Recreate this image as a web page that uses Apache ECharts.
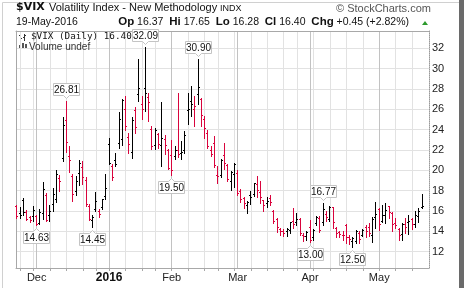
<!DOCTYPE html>
<html><head><meta charset="utf-8">
<script src="https://cdn.jsdelivr.net/npm/echarts@6/dist/echarts.min.js"></script>
<style>html,body{margin:0;padding:0;background:#fff}#c{width:464px;height:288px}</style>
</head><body><div id="c"></div>
<script>
const dates = [
'2015-11-20','2015-11-23','2015-11-24','2015-11-25','2015-11-27','2015-11-30',
'2015-12-01','2015-12-02','2015-12-03','2015-12-04','2015-12-07','2015-12-08','2015-12-09','2015-12-10','2015-12-11','2015-12-14','2015-12-15','2015-12-16','2015-12-17','2015-12-18','2015-12-21','2015-12-22','2015-12-23','2015-12-24','2015-12-28','2015-12-29','2015-12-30','2015-12-31',
'2016-01-04','2016-01-05','2016-01-06','2016-01-07','2016-01-08','2016-01-11','2016-01-12','2016-01-13','2016-01-14','2016-01-15','2016-01-19','2016-01-20','2016-01-21','2016-01-22','2016-01-25','2016-01-26','2016-01-27','2016-01-28','2016-01-29',
'2016-02-01','2016-02-02','2016-02-03','2016-02-04','2016-02-05','2016-02-08','2016-02-09','2016-02-10','2016-02-11','2016-02-12','2016-02-16','2016-02-17','2016-02-18','2016-02-19','2016-02-22','2016-02-23','2016-02-24','2016-02-25','2016-02-26','2016-02-29',
'2016-03-01','2016-03-02','2016-03-03','2016-03-04','2016-03-07','2016-03-08','2016-03-09','2016-03-10','2016-03-11','2016-03-14','2016-03-15','2016-03-16','2016-03-17','2016-03-18','2016-03-21','2016-03-22','2016-03-23','2016-03-24','2016-03-28','2016-03-29','2016-03-30','2016-03-31',
'2016-04-01','2016-04-04','2016-04-05','2016-04-06','2016-04-07','2016-04-08','2016-04-11','2016-04-12','2016-04-13','2016-04-14','2016-04-15','2016-04-18','2016-04-19','2016-04-20','2016-04-21','2016-04-22','2016-04-25','2016-04-26','2016-04-27','2016-04-28','2016-04-29',
'2016-05-02','2016-05-03','2016-05-04','2016-05-05','2016-05-06','2016-05-09','2016-05-10','2016-05-11','2016-05-12','2016-05-13','2016-05-16','2016-05-17','2016-05-18','2016-05-19'];

const opens = [16.4,15.8,17.0,15.9,15.4,15.5,
15.5,14.8,15.8,17.5,15.6,16.6,17.1,19.2,21.2,24.9,21.4,19.4,17.9,19.7,20.3,19.0,16.4,15.1,16.2,16.0,16.3,17.4,
22.5,20.4,21.0,22.6,23.0,26.0,23.2,21.8,25.9,27.5,26.5,28.0,27.2,24.0,22.4,23.5,22.4,23.0,22.0,
21.5,21.4,22.0,21.7,22.0,25.9,26.8,26.0,27.5,27.0,25.0,23.6,22.0,22.6,19.5,19.5,21.5,20.5,18.9,19.6,
19.7,17.9,17.2,16.5,17.5,17.6,18.6,17.8,17.0,16.7,17.2,16.0,15.2,14.2,14.0,14.0,14.1,15.0,14.9,15.2,13.6,13.5,
14.4,13.4,14.8,15.3,14.9,15.7,15.2,16.3,14.3,13.9,13.6,14.6,13.4,13.0,13.0,13.8,13.6,14.4,14.4,13.6,15.4,
16.2,15.0,15.6,16.4,15.8,14.8,14.2,13.7,14.7,14.9,15.2,14.7,15.5,16.37];

const highs = [16.6,16.4,17.3,16.1,15.5,16.5,
15.6,16.2,18.9,17.8,16.6,18.3,20.0,19.5,25.2,26.81,22.4,19.6,19.4,21.0,20.9,19.3,16.7,15.6,17.9,16.2,17.2,19.6,
23.2,20.6,21.7,25.7,27.0,27.3,23.7,25.2,26.2,30.95,27.3,32.09,27.6,24.4,24.2,23.7,26.7,23.5,22.1,
23.0,22.4,27.6,22.9,23.9,27.6,28.3,27.3,30.90,27.1,25.3,24.0,22.4,23.4,20.4,21.1,22.7,20.6,19.9,20.7,
20.0,18.2,17.4,17.0,18.0,18.8,19.4,19.0,17.1,17.4,17.6,16.1,15.3,14.3,14.2,14.3,14.9,16.3,15.8,15.3,13.8,14.0,
15.1,14.2,15.5,15.5,16.77,16.0,16.5,16.4,14.4,14.0,14.0,14.7,13.6,13.4,14.1,14.0,14.2,14.6,14.8,15.4,16.9,
16.3,16.6,16.8,16.5,15.9,15.3,14.3,14.8,15.3,15.6,15.3,16.0,16.3,17.65];

const lows = [15.3,15.35,15.6,15.1,14.95,15.0,
14.63,14.7,15.2,15.0,15.0,16.0,16.9,18.0,20.9,21.8,19.8,17.0,17.6,18.6,18.7,16.5,15.1,14.45,16.0,15.4,16.2,17.2,
20.6,19.1,20.4,22.2,22.5,24.0,21.7,21.2,23.7,26.8,25.0,25.8,24.9,22.1,22.1,22.2,20.4,21.6,20.1,
19.50,21.1,21.3,21.1,21.7,24.6,25.3,24.4,26.5,24.4,23.2,22.2,21.4,20.3,18.8,19.3,20.1,19.0,18.1,18.4,
17.6,16.9,16.3,15.8,16.7,17.5,17.4,16.8,16.0,16.4,16.6,14.8,13.9,13.6,13.5,13.5,13.8,14.3,14.6,13.6,13.1,13.2,
13.00,13.2,14.6,13.9,14.6,15.0,15.0,14.3,13.4,13.4,13.2,12.9,12.8,12.50,12.9,12.9,13.5,13.4,13.5,13.0,14.3,
14.1,14.9,14.8,15.3,14.0,14.3,13.2,13.2,13.8,13.7,14.2,14.4,14.9,16.28];

const closes = [15.5,15.6,15.9,15.2,15.1,16.1,
14.7,15.9,18.1,15.1,16.0,17.6,19.6,18.9,24.4,22.7,21.0,17.6,18.9,20.7,19.3,16.6,15.2,15.4,16.9,15.7,17.1,18.2,
20.7,19.3,20.6,25.0,26.9,24.3,22.5,24.9,24.2,28.0,26.0,27.6,26.7,22.3,23.9,22.5,23.1,22.4,20.2,
20.0,22.0,21.6,21.8,23.4,26.0,26.5,26.3,28.1,25.4,24.1,22.3,21.6,20.5,19.4,21.0,20.7,19.1,19.8,20.55,
17.7,17.1,16.7,16.86,17.35,18.67,18.0,17.3,16.5,16.9,16.8,15.0,14.4,14.0,13.8,14.2,14.85,14.7,15.2,13.8,13.5,13.9,
13.1,14.1,15.4,14.1,16.2,15.4,16.3,14.85,13.8,13.7,13.6,13.35,13.2,13.3,13.95,13.2,14.1,13.96,13.8,15.2,15.7,
14.7,15.6,16.05,15.9,14.7,14.6,13.6,14.7,14.4,15.0,14.7,15.6,15.95,16.40];

const prevCloseBeforeStart = 16.99;
const yTickValues = [12,14,16,18,20,22,24,26,28,30,32];
const monthNames = ['Jan','Feb','Mar','Apr','May','Jun','Jul','Aug','Sep','Oct','Nov','Dec'];
const callouts = [
  {date:'2015-12-01', kind:'low'}, {date:'2015-12-14', kind:'high'}, {date:'2015-12-24', kind:'low'},
  {date:'2016-01-20', kind:'high'}, {date:'2016-02-01', kind:'low'}, {date:'2016-02-11', kind:'high'},
  {date:'2016-04-01', kind:'low'}, {date:'2016-04-07', kind:'high'}, {date:'2016-04-20', kind:'low'}];

// derived
const monthStarts = [], weekStarts = [];
dates.forEach((d, i) => {
  if (i === 0) return;
  const p = dates[i-1];
  if (d.slice(0,7) !== p.slice(0,7)) monthStarts.push(i);
  const dd = new Date(d + 'T00:00:00Z'), pd = new Date(p + 'T00:00:00Z');
  if (dd.getUTCDay() < pd.getUTCDay() || (dd - pd) > 4 * 86400000) weekStarts.push(i);
});
const weekOnly = weekStarts.filter(i => monthStarts.indexOf(i) < 0);
const monthLabel = {};
monthStarts.forEach(i => {
  const y = +dates[i].slice(0,4), m = +dates[i].slice(5,7);
  monthLabel[i] = m === 1 ? '{y|' + y + '}' : monthNames[m-1];
});

const ohlc = dates.map((d, i) => {
  const prev = i === 0 ? prevCloseBeforeStart : closes[i-1];
  return [i, opens[i], highs[i], lows[i], closes[i], closes[i] >= prev ? 1 : -1];
});
const calloutData = callouts.map(c => {
  const i = dates.indexOf(c.date);
  return [i, c.kind === 'high' ? highs[i] : lows[i], c.kind === 'high' ? 1 : -1];
});

const RED = '#d9043d';
function renderOHLC(params, api) {
  const i = api.value(0);
  const o = api.coord([i, api.value(1)]);
  const h = api.coord([i, api.value(2)]);
  const l = api.coord([i, api.value(3)]);
  const c = api.coord([i, api.value(4)]);
  const color = api.value(5) > 0 ? '#000' : RED;
  const x = Math.round(h[0] - 0.5);
  const yT = Math.round(h[1]), yB = Math.round(l[1]);
  return {type:'group', children:[
    {type:'rect', shape:{x:x, y:yT, width:1, height:Math.max(1, yB - yT + 1)}, style:{fill:color}},
    {type:'rect', shape:{x:x-1, y:Math.round(o[1]-0.5), width:1, height:1}, style:{fill:color}},
    {type:'rect', shape:{x:x+1, y:Math.round(c[1]-0.5), width:1, height:1}, style:{fill:color}}
  ]};
}
function renderCallout(params, api) {
  const i = api.value(0), v = api.value(1), isHigh = api.value(2) > 0;
  const p = api.coord([i, v]);
  const cx = Math.round(p[0] - 0.5) + 0.5;
  const w = 26, hh = 12;
  const L = cx - w/2, R = cx + w/2;
  let pts, ty;
  if (isHigh) {
    const b = Math.round(p[1]) - 5.5, t = b - hh;
    pts = [[L,t],[R,t],[R,b],[cx+3,b],[cx,b+3],[cx-3,b],[L,b]];
    ty = (t + b) / 2 + 0.5;
  } else {
    const t = Math.round(p[1]) + 6.5, b = t + hh;
    pts = [[L,t],[cx-3,t],[cx,t-3],[cx+3,t],[R,t],[R,b],[L,b]];
    ty = (t + b) / 2 + 0.5;
  }
  return {type:'group', children:[
    {type:'polygon', shape:{points:pts}, style:{fill:'#fff', stroke:'#c4c4c4', lineWidth:1}},
    {type:'text', style:{text:v.toFixed(2), x:cx, y:ty, align:'center', verticalAlign:'middle',
      font:'10px "Liberation Sans", Arial, sans-serif', fill:'#111'}}
  ]};
}

const chart = echarts.init(document.getElementById('c'), null, {renderer:'canvas'});
const XMIN = -0.273, XMAX = 125.1, YMIN = 10.40, YMAX = 33.70;
chart.setOption({
  animation:false,
  backgroundColor:'#fff',
  grid:{left:16, right:35, top:31, bottom:20, containLabel:false},
  xAxis:[{
    type:'value', min:XMIN, max:XMAX, position:'bottom', z:1,
    axisLine:{show:true, onZero:false, lineStyle:{color:'#a8a8a8', width:1}},
    axisTick:{show:true, customValues:weekStarts, length:3, inside:false, lineStyle:{color:'#a8a8a8'}},
    axisLabel:{show:true, customValues:monthStarts, margin:4, fontSize:11, color:'#222',
      fontFamily:'"Liberation Sans", Arial, sans-serif',
      formatter:(v)=> monthLabel[Math.round(v)] || '',
      rich:{y:{fontWeight:'bold', fontSize:12, color:'#111', fontFamily:'"Liberation Sans", Arial, sans-serif'}}},
    splitLine:{show:false}
  },{
    type:'value', min:XMIN, max:XMAX, position:'top', z:1,
    axisLine:{show:true, onZero:false, lineStyle:{color:'#a8a8a8'}},
    axisTick:{show:false}, axisLabel:{show:false}, splitLine:{show:false}
  }],
  yAxis:[{
    type:'value', min:YMIN, max:YMAX, position:'right', z:1,
    axisLine:{show:true, onZero:false, lineStyle:{color:'#9a9a9a', type:'dotted'}},
    axisTick:{show:false},
    axisLabel:{show:true, customValues:yTickValues, margin:3, fontSize:11, color:'#222',
      fontFamily:'"Liberation Sans", Arial, sans-serif', formatter:(v)=> String(Math.round(v))},
    splitLine:{show:false}
  },{
    type:'value', min:YMIN, max:YMAX, position:'left', z:1,
    axisLine:{show:true, onZero:false, lineStyle:{color:'#a8a8a8'}},
    axisTick:{show:false}, axisLabel:{show:false}, splitLine:{show:false}
  }],
  series:[
    {type:'line', data:[], z:0, silent:true,
      markLine:{silent:true, z:0, symbol:['none','none'], label:{show:false}, animation:false,
        lineStyle:{color:'#e2e2e2', width:1, type:'solid'},
        data: yTickValues.map(v=>({yAxis:v})).concat(weekOnly.map(i=>({xAxis:i})))
          .concat(monthStarts.map(i=>({xAxis:i, lineStyle:{color:'#c2c2c2', width:1, type:'solid'}})))}},
    {type:'custom', name:'$VIX', data:ohlc, renderItem:renderOHLC, z:6, clip:false,
      encode:{x:0, y:[1,2,3,4]}},
    {type:'custom', name:'callouts', data:calloutData, renderItem:renderCallout, z:8, clip:false,
      encode:{x:0, y:1}}
  ],
  graphic:[
    {type:'rect', left:0, top:0, z:-1, shape:{width:463, height:287}, style:{fill:'none', stroke:'#d0d0d0', lineWidth:1}, silent:true},
    {type:'rect', left:459, top:0, shape:{width:5, height:288}, style:{fill:'#6a6a6a'}, silent:true},
    {type:'text', left:16, top:2, style:{text:'$VIX', font:'bold 11px "DejaVu Sans", sans-serif', fill:'#111'}},
    {type:'text', left:49, top:2, style:{text:'Volatility Index - New Methodology', font:'11px "Liberation Sans", Arial, sans-serif', fill:'#111'}},
    {type:'text', left:220, top:4, style:{text:'INDX', font:'9px "Liberation Sans", Arial, sans-serif', fill:'#111'}},
    {type:'text', left:336, top:3, style:{text:'\u00A9 StockCharts.com', font:'11px "Liberation Sans", Arial, sans-serif', fill:'#555'}},
    {type:'text', left:16, top:17, style:{text:'19-May-2016', font:'10.5px "Liberation Sans", Arial, sans-serif', fill:'#111'}},
    {type:'text', right:55, top:16, style:{
      text:'{b|Op} 16.37  {b|Hi} 17.65  {b|Lo} 16.28  {b|Cl} 16.40  {b|Chg} +0.45 (+2.82%)',
      font:'10.5px "Liberation Sans", Arial, sans-serif', fill:'#111',
      rich:{b:{fontWeight:'bold', fontSize:11.5, fontFamily:'"Liberation Sans", Arial, sans-serif', fill:'#111'}}}},
    {type:'polygon', shape:{points:[[422,25],[428,25],[425,21]]}, style:{fill:'#2c9a2c'}},
    {type:'group', left:19, top:33, z:10, children:[
      {type:'rect', shape:{x:1, y:0, width:1, height:7}, style:{fill:'#333'}},
      {type:'rect', shape:{x:0, y:2, width:1, height:1}, style:{fill:'#333'}},
      {type:'rect', shape:{x:2, y:5, width:1, height:1}, style:{fill:'#333'}},
      {type:'rect', shape:{x:5, y:1, width:1, height:7}, style:{fill:'#333'}},
      {type:'rect', shape:{x:4, y:4, width:1, height:1}, style:{fill:'#333'}},
      {type:'rect', shape:{x:6, y:2, width:1, height:1}, style:{fill:'#333'}}
    ]},
    {type:'text', left:31, top:32, z:10, style:{text:'$VIX (Daily) 16.40', font:'9.3px "DejaVu Sans Mono", monospace', fill:'#111'}},
    {type:'group', left:19, top:43, z:10, children:[
      {type:'rect', shape:{x:0, y:3, width:2, height:4}, style:{fill:'#555'}},
      {type:'rect', shape:{x:3, y:1, width:2, height:6}, style:{fill:'#555'}},
      {type:'rect', shape:{x:6, y:2, width:2, height:5}, style:{fill:'#555'}}
    ]},
    {type:'text', left:29, top:42, z:10, style:{text:'Volume undef', font:'10px "Liberation Sans", Arial, sans-serif', fill:'#333'}}
  ]
});
</script></body></html>
